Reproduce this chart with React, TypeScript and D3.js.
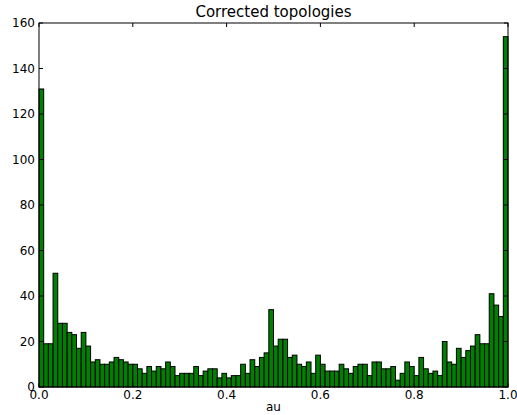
import React from "react";
import * as d3 from "d3";

const binEdgesStart = 0;
const binEdgesEnd = 1;
const counts = [
  131, 19, 19, 50, 28, 28, 24, 23, 17, 24,
  18, 11, 12, 10, 10, 11, 13, 12, 11, 10,
  10, 8, 6, 9, 7, 9, 8, 11, 9, 5,
  6, 6, 6, 9, 5, 7, 8, 8, 4, 6,
  4, 5, 5, 10, 6, 12, 9, 13, 15, 34,
  18, 21, 21, 13, 14, 10, 9, 11, 6, 14,
  10, 7, 7, 7, 10, 8, 6, 9, 10, 10,
  5, 11, 11, 8, 8, 9, 3, 6, 11, 9,
  5, 13, 8, 6, 7, 5, 20, 11, 10, 17,
  13, 16, 18, 23, 19, 19, 41, 36, 31, 154,
];
const xTicks = [0, 0.2, 0.4, 0.6, 0.8, 1.0];
const yTicks = [0, 20, 40, 60, 80, 100, 120, 140, 160];
const title = "Corrected topologies";
const xLabel = "au";

export default function App() {
  const W = 517, H = 415;
  const L = 39, R = 508, T = 23, B = 387;
  const x = d3.scaleLinear().domain([binEdgesStart, binEdgesEnd]).range([L, R]);
  const y = d3.scaleLinear().domain([0, 160]).range([B, T]);
  const n = counts.length;
  const bw = (binEdgesEnd - binEdgesStart) / n;
  const font = "'DejaVu Sans', sans-serif";
  return (
    <svg width={W} height={H} style={{ position: "absolute", left: 0, top: 0, background: "#fff" }}>
      <rect x={0} y={0} width={W} height={H} fill="#fff" />
      {counts.map((c, i) => {
        const x0 = x(binEdgesStart + i * bw);
        const x1 = x(binEdgesStart + (i + 1) * bw);
        return (
          <rect key={i} x={x0} y={y(c)} width={x1 - x0} height={B - y(c)}
            fill="#008000" stroke="#000" strokeWidth={1} />
        );
      })}
      <rect x={L} y={T} width={R - L} height={B - T} fill="none" stroke="#000" strokeWidth={1} />
      {xTicks.map((t) => (
        <g key={"x" + t}>
          <line x1={x(t)} x2={x(t)} y1={B} y2={B - 4} stroke="#000" />
          <line x1={x(t)} x2={x(t)} y1={T} y2={T + 4} stroke="#000" />
          <text x={x(t)} y={399} textAnchor="middle" fontFamily={font} fontSize={12}>{t.toFixed(1)}</text>
        </g>
      ))}
      {yTicks.map((t) => (
        <g key={"y" + t}>
          <line x1={L} x2={L + 4} y1={y(t)} y2={y(t)} stroke="#000" />
          <line x1={R} x2={R - 4} y1={y(t)} y2={y(t)} stroke="#000" />
          <text x={35} y={y(t) + 4} textAnchor="end" fontFamily={font} fontSize={12}>{t}</text>
        </g>
      ))}
      <text x={(L + R) / 2} y={17} textAnchor="middle" fontFamily={font} fontSize={15}>{title}</text>
      <text x={(L + R) / 2} y={411} textAnchor="middle" fontFamily={font} fontSize={12}>{xLabel}</text>
    </svg>
  );
}
